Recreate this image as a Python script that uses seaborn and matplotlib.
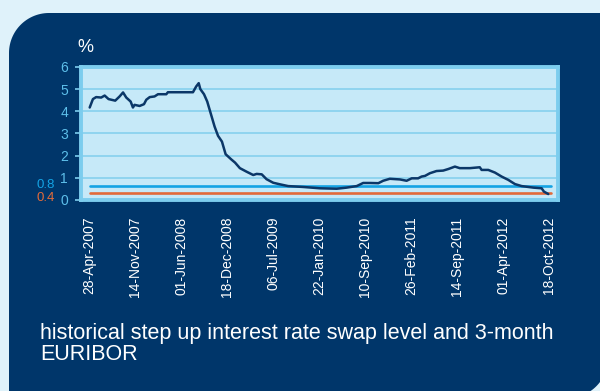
import numpy as np
import pandas as pd
import matplotlib
matplotlib.use("Agg")
import matplotlib.pyplot as plt
import matplotlib.transforms as mtransforms
from matplotlib.patches import Polygon
import seaborn as sns

# ---------------- data ----------------
# x is the position along the category axis (one tick label every 200 units)
tick_pos = [0, 200, 400, 600, 800, 1000, 1200, 1400, 1600, 1800, 2000]
tick_labels = ["28-Apr-2007", "14-Nov-2007", "01-Jun-2008", "18-Dec-2008",
               "06-Jul-2009", "22-Jan-2010", "10-Sep-2010", "26-Feb-2011",
               "14-Sep-2011", "01-Apr-2012", "18-Oct-2012"]

swap_pos = [2, 16, 30, 52, 67, 84, 113, 132, 147, 161, 180, 190, 197, 219, 238,
            248, 263, 284, 299, 335, 342, 386, 451, 465, 476, 483, 499, 513, 528,
            545, 560, 577, 593, 617, 634, 655, 684, 713, 728, 750, 771, 800, 829,
            865, 930, 1003, 1076, 1119, 1163, 1191, 1220, 1257, 1278, 1307, 1351,
            1380, 1402, 1430, 1445, 1460, 1481, 1510, 1539, 1561, 1590, 1611, 1655,
            1698, 1706, 1735, 1764, 1793, 1822, 1851, 1880, 1931, 1967, 1977, 1996]
swap_val = [4.17, 4.55, 4.64, 4.62, 4.71, 4.55, 4.48, 4.67, 4.85, 4.62, 4.44, 4.17,
            4.29, 4.24, 4.32, 4.52, 4.64, 4.67, 4.77, 4.77, 4.86, 4.86, 4.86, 5.12,
            5.27, 5.00, 4.77, 4.44, 3.91, 3.31, 2.89, 2.63, 2.06, 1.83, 1.68, 1.43,
            1.27, 1.12, 1.17, 1.15, 0.93, 0.77, 0.70, 0.62, 0.58, 0.52, 0.50, 0.55,
            0.62, 0.76, 0.76, 0.75, 0.86, 0.95, 0.92, 0.86, 0.97, 0.97, 1.05, 1.08,
            1.20, 1.30, 1.32, 1.39, 1.50, 1.43, 1.43, 1.47, 1.35, 1.35, 1.23, 1.05,
            0.90, 0.71, 0.62, 0.55, 0.52, 0.37, 0.26]

level_pos = [2, 2007]
blue_level = [0.61, 0.61]
orange_level = [0.31, 0.31]
side_labels = ["0.8", "0.4"]
y_ticks = [0, 1, 2, 3, 4, 5, 6]

caption_1 = "historical step up interest rate swap level and 3-month"
caption_2 = "EURIBOR"

# ---------------- styling ----------------
sns.set_theme(style="white")
plt.rcParams["font.family"] = ["Liberation Sans", "DejaVu Sans"]

BG = "#dff2fa"
NAVY = "#00366a"
PLOT_BG = "#c6e9f8"
BORDER = "#7ccdee"
GRID = "#86d0ee"
TICK_TXT = "#5dbfea"
LINE = "#0b3768"
BLUE = "#14a3e4"
ORANGE = "#e26a3a"

W, H = 600, 391
fig = plt.figure(figsize=(6.0, 3.91), dpi=100, facecolor=BG)

# decorative navy panel with rounded corners (pixel coordinates)
bg_ax = fig.add_axes([0, 0, 1, 1], zorder=0)
bg_ax.set_xlim(0, W)
bg_ax.set_ylim(H, 0)
bg_ax.axis("off")
r = 40
t1 = np.linspace(np.pi, 1.5 * np.pi, 30)
tl = np.column_stack([49 + r * np.cos(t1), 53 + r * np.sin(t1)])
t2 = np.linspace(0, 0.5 * np.pi, 30)
br = np.column_stack([568 + r * np.cos(t2), 358 + r * np.sin(t2)])
pts = np.vstack([tl, [[615, 13], [615, 358]], br, [[9, 400]]])
bg_ax.add_patch(Polygon(pts, closed=True, facecolor=NAVY, edgecolor="none"))

# main chart axes
left, right, top, bottom = 80.5, 557.5, 67.0, 199.8
ax = fig.add_axes([left / W, 1 - bottom / H, (right - left) / W, (bottom - top) / H],
                  zorder=2)
ax.set_facecolor(PLOT_BG)

df = pd.DataFrame({"pos": swap_pos, "rate": swap_val})
sns.lineplot(data=df, x="pos", y="rate", ax=ax, color=LINE, linewidth=1.8, zorder=4)
sns.lineplot(x=level_pos, y=blue_level, ax=ax, color=BLUE, linewidth=1.9, zorder=3)
sns.lineplot(x=level_pos, y=orange_level, ax=ax, color=ORANGE, linewidth=1.9, zorder=3)

ax.set_xlim(-38, 2036)
ax.set_ylim(0, 6)
ax.set_xlabel("")
ax.set_ylabel("")
ax.set_yticks(y_ticks)
ax.set_xticks(tick_pos)
ax.set_xticklabels(tick_labels, rotation=90, color="white", fontsize=10)
ax.tick_params(axis="x", length=0, pad=12)
ax.tick_params(axis="y", length=4, width=1.2, color=BORDER, labelcolor=TICK_TXT,
               labelsize=10, pad=5, left=True)
ax.grid(axis="y", color=GRID, linewidth=1.2)
ax.grid(axis="x", visible=False)
ax.set_axisbelow(True)
for s in ax.spines.values():
    s.set_visible(True)
    s.set_color(BORDER)
    s.set_linewidth(2.8)

# coloured side labels for the two levels
tr = mtransforms.blended_transform_factory(ax.transAxes, ax.transData)
ax.text(-0.053, 0.66, side_labels[0], transform=tr, ha="right", va="center",
        color=BLUE, fontsize=9.5, clip_on=False)
ax.text(-0.053, 0.10, side_labels[1], transform=tr, ha="right", va="center",
        color=ORANGE, fontsize=9.5, clip_on=False)

# unit label
fig.text(85 / W, 1 - 47 / H, "%", color="white", fontsize=13, ha="center", va="center")

# caption
fig.text(40 / W, 1 - 333 / H, caption_1, color="white", fontsize=15.5, ha="left",
         va="center")
fig.text(40 / W, 1 - 354 / H, caption_2, color="white", fontsize=15.5, ha="left",
         va="center")

fig.savefig("out.png", dpi=100, facecolor=BG)
